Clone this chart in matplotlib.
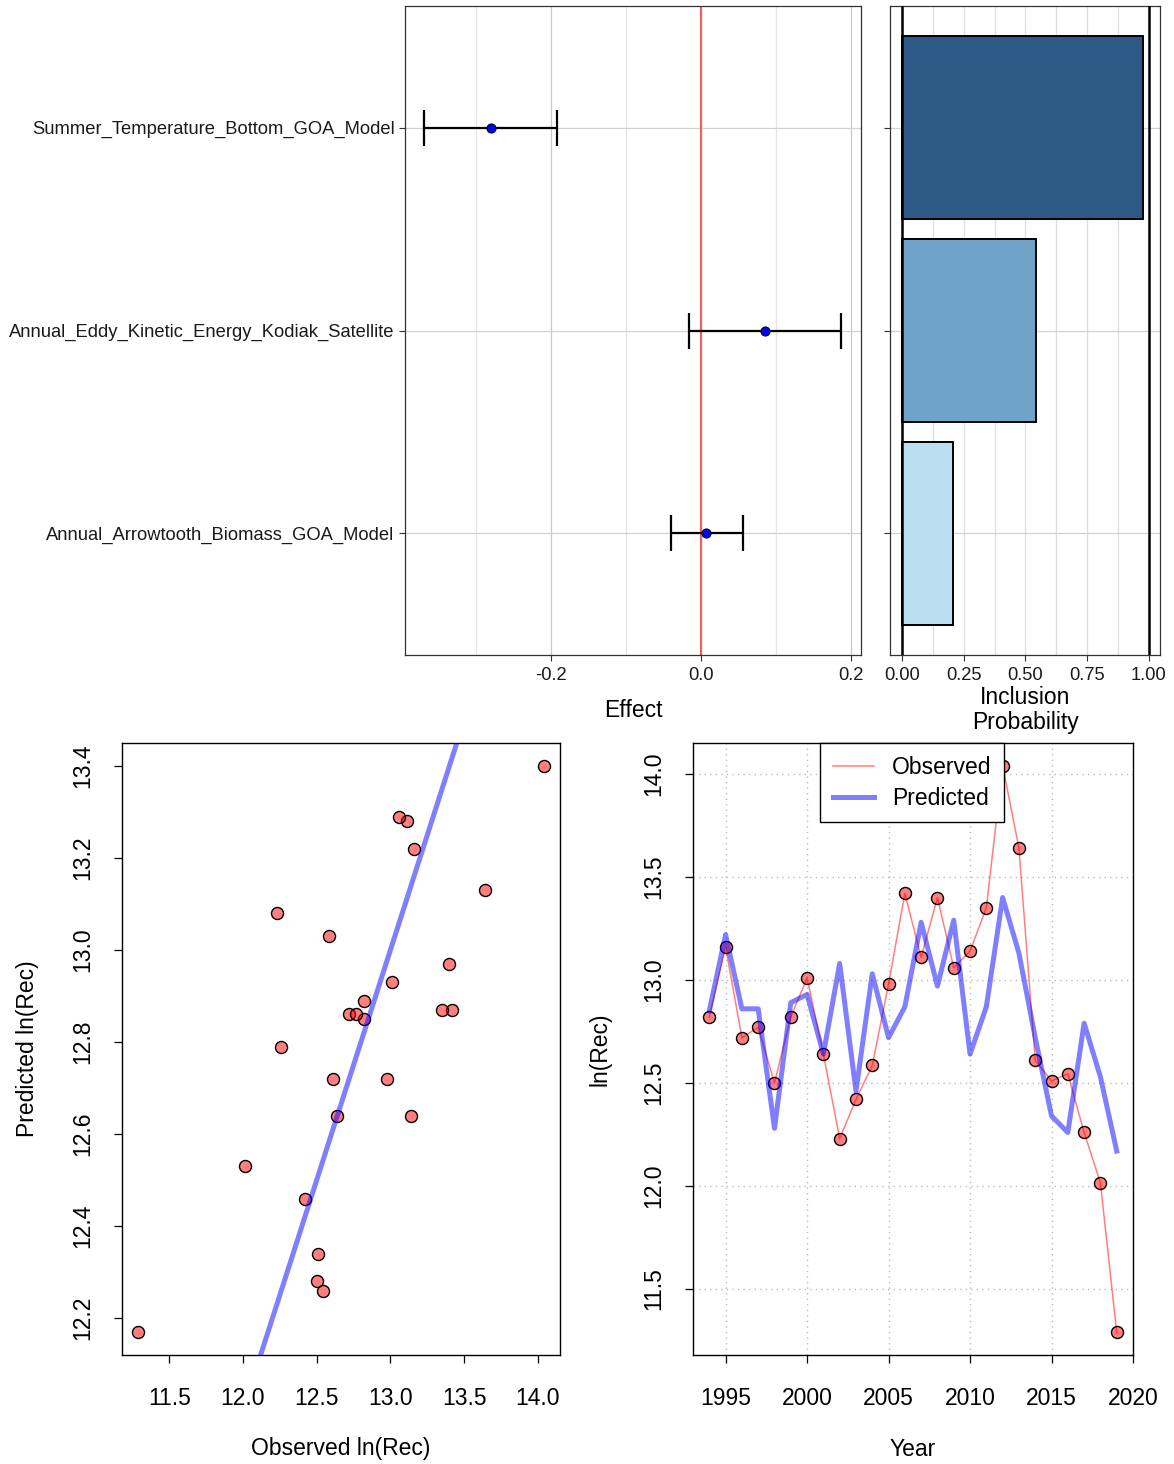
import matplotlib
matplotlib.use('Agg')
import matplotlib.pyplot as plt
import numpy as np

plt.rcParams['font.family'] = ['Liberation Sans', 'DejaVu Sans']

# ---------------- data ----------------
covariates = ['Annual_Arrowtooth_Biomass_GOA_Model',
              'Annual_Eddy_Kinetic_Energy_Kodiak_Satellite',
              'Summer_Temperature_Bottom_GOA_Model']
effect_mean = [0.0076, 0.0857, -0.2804]
effect_lower = [-0.040, -0.0156, -0.369]
effect_upper = [0.0558, 0.187, -0.192]
inclusion_prob = [0.208, 0.5425, 0.976]
bar_colors = ['#BADDEF', '#6FA3C8', '#2C5985']

years = list(range(1994, 2020))
observed = [12.82, 13.16, 12.72, 12.77, 12.50, 12.82, 13.01, 12.64, 12.23, 12.42,
            12.585, 12.98, 13.42, 13.11, 13.40, 13.06, 13.14, 13.35, 14.04, 13.64,
            12.61, 12.51, 12.545, 12.26, 12.016, 11.29]
predicted = [12.85, 13.22, 12.86, 12.86, 12.28, 12.89, 12.93, 12.64, 13.08, 12.46,
             13.03, 12.72, 12.87, 13.28, 12.97, 13.29, 12.64, 12.87, 13.40, 13.13,
             12.72, 12.34, 12.26, 12.79, 12.53, 12.17]

W, H = 1174, 1464
fig = plt.figure(figsize=(W / 100, H / 100), dpi=100)


def ax_px(x0, y0, x1, y1):
    return fig.add_axes([x0 / W, 1 - y1 / H, (x1 - x0) / W, (y1 - y0) / H])


TOP_FS = 13.2
BOT_FS = 16.5

# ---------------- top-left: effects ----------------
ax1 = ax_px(405, 6, 861, 655)
ypos = np.arange(len(covariates))
ax1.set_xlim(-0.395, 0.214)
ax1.set_ylim(-0.6, 2.6)
for v in [-0.3, -0.1, 0.1]:
    ax1.axvline(v, color='#E6E6E6', lw=0.9, zorder=0)
for v in [-0.2, 0.0, 0.2]:
    ax1.axvline(v, color='#C8C8C8', lw=0.9, zorder=0)
for yy in ypos:
    ax1.axhline(yy, color='#D2D2D2', lw=0.9, zorder=0)
ax1.axvline(0, color='#F06060', lw=1.6, zorder=1)
ax1.errorbar(effect_mean, ypos,
             xerr=[np.array(effect_mean) - np.array(effect_lower),
                   np.array(effect_upper) - np.array(effect_mean)],
             fmt='none', ecolor='black', elinewidth=1.6, capsize=13, capthick=1.6, zorder=2)
ax1.scatter(effect_mean, ypos, s=42, c='#0000FF', edgecolors='black', linewidths=0.8, zorder=3)
ax1.set_xticks([-0.2, 0.0, 0.2])
ax1.set_xticklabels(['-0.2', '0.0', '0.2'])
ax1.set_yticks(ypos)
ax1.set_yticklabels(covariates)
ax1.tick_params(axis='both', labelsize=TOP_FS, colors='#333333', labelcolor='#1A1A1A', length=4, width=0.8)
ax1.tick_params(axis='x', pad=5)
for s in ax1.spines.values():
    s.set_color('#333333')
    s.set_linewidth(0.9)
fig.text(633 / W, 1 - 711 / H, 'Effect', ha='center', va='center', fontsize=16.5)

# ---------------- top-right: inclusion probability ----------------
ax2 = ax_px(890, 6, 1160, 655)
ax2.set_xlim(-0.049, 1.045)
ax2.set_ylim(-0.6, 2.6)
for v in np.arange(0.125, 1.0, 0.125):
    ax2.axvline(v, color='#DEDEDE', lw=0.9, zorder=0)
for yy in ypos:
    ax2.axhline(yy, color='#D2D2D2', lw=0.9, zorder=0)
ax2.barh(ypos, inclusion_prob, height=0.9, color=bar_colors, edgecolor='black', linewidth=1.4, zorder=2)
ax2.axvline(0, color='black', lw=1.8, zorder=3)
ax2.axvline(1, color='black', lw=1.8, zorder=3)
ax2.set_xticks([0, 0.25, 0.5, 0.75, 1.0])
ax2.set_xticklabels(['0.00', '0.25', '0.50', '0.75', '1.00'])
ax2.set_yticks(ypos)
ax2.set_yticklabels([])
ax2.tick_params(axis='both', labelsize=TOP_FS, colors='#333333', labelcolor='#1A1A1A', length=4, width=0.8)
ax2.tick_params(axis='x', pad=5)
for s in ax2.spines.values():
    s.set_color('#333333')
    s.set_linewidth(0.9)
fig.text(1025 / W, 1 - 710 / H, 'Inclusion\nProbability', ha='center', va='center',
         fontsize=16.5, linespacing=1.1)

# ---------------- bottom-left: observed vs predicted ----------------
red_fill = (1.0, 0.0, 0.0, 0.5)
blue_line = (0.0, 0.0, 1.0, 0.5)

ax3 = ax_px(122, 743, 560, 1355)
ax3.set_xlim(11.18, 14.15)
ax3.set_ylim(12.12, 13.45)
ax3.scatter(observed, predicted, s=75, facecolors=red_fill, edgecolors='black', linewidths=1.0, zorder=2)
lims = np.array([11.0, 14.5])
ax3.plot(lims, lims, color=blue_line, lw=3.6, zorder=3)
ax3.set_xticks([11.5, 12.0, 12.5, 13.0, 13.5, 14.0])
ax3.set_xticklabels(['11.5', '12.0', '12.5', '13.0', '13.5', '14.0'])
ax3.set_yticks([12.2, 12.4, 12.6, 12.8, 13.0, 13.2, 13.4])
ax3.set_yticklabels(['12.2', '12.4', '12.6', '12.8', '13.0', '13.2', '13.4'], rotation=90, va='center')
ax3.tick_params(axis='both', labelsize=BOT_FS, length=6, width=0.9)
ax3.tick_params(axis='x', pad=17)
ax3.tick_params(axis='y', pad=14)
for s in ax3.spines.values():
    s.set_linewidth(1.0)
fig.text(341 / W, 1 - 1449 / H, 'Observed ln(Rec)', ha='center', va='center', fontsize=BOT_FS)
fig.text(28 / W, 1 - 1049 / H, 'Predicted ln(Rec)', ha='center', va='center', fontsize=BOT_FS, rotation=90)

# ---------------- bottom-right: time series ----------------
ax4 = ax_px(693, 743, 1133, 1355)
ax4.set_xlim(1993.0, 2020.0)
ax4.set_ylim(11.18, 14.15)
xt = [1995, 2000, 2005, 2010, 2015, 2020]
yt = [11.5, 12.0, 12.5, 13.0, 13.5, 14.0]
for v in xt:
    ax4.axvline(v, color='#BBBBBB', lw=1.0, ls=(0, (1, 3)), zorder=0)
for v in yt:
    ax4.axhline(v, color='#BBBBBB', lw=1.0, ls=(0, (1, 3)), zorder=0)
l_obs, = ax4.plot(years, observed, color=(1, 0, 0, 0.5), lw=1.1, zorder=2, label='Observed')
ax4.scatter(years, observed, s=75, facecolors=red_fill, edgecolors='black', linewidths=1.0, zorder=3)
l_pred, = ax4.plot(years, predicted, color=blue_line, lw=3.6, zorder=4, label='Predicted')
ax4.set_xticks(xt)
ax4.set_xticklabels([str(v) for v in xt])
ax4.set_yticks(yt)
ax4.set_yticklabels(['11.5', '12.0', '12.5', '13.0', '13.5', '14.0'], rotation=90, va='center')
ax4.tick_params(axis='both', labelsize=BOT_FS, length=6, width=0.9)
ax4.tick_params(axis='x', pad=17)
ax4.tick_params(axis='y', pad=14)
for s in ax4.spines.values():
    s.set_linewidth(1.0)
leg = ax4.legend(handles=[l_obs, l_pred], loc='upper left', bbox_to_anchor=(0.289, 1.0),
                 borderaxespad=0, fontsize=16.5, frameon=True, fancybox=False, framealpha=1.0,
                 handlelength=1.8, handletextpad=0.8, borderpad=0.55, labelspacing=0.35)
leg.get_frame().set_edgecolor('black')
leg.get_frame().set_linewidth(1.0)
leg.set_zorder(10)
fig.text(913 / W, 1 - 1449 / H, 'Year', ha='center', va='center', fontsize=BOT_FS)
fig.text(600 / W, 1 - 1049 / H, 'ln(Rec)', ha='center', va='center', fontsize=BOT_FS, rotation=90)

fig.savefig('out.png', dpi=100)
